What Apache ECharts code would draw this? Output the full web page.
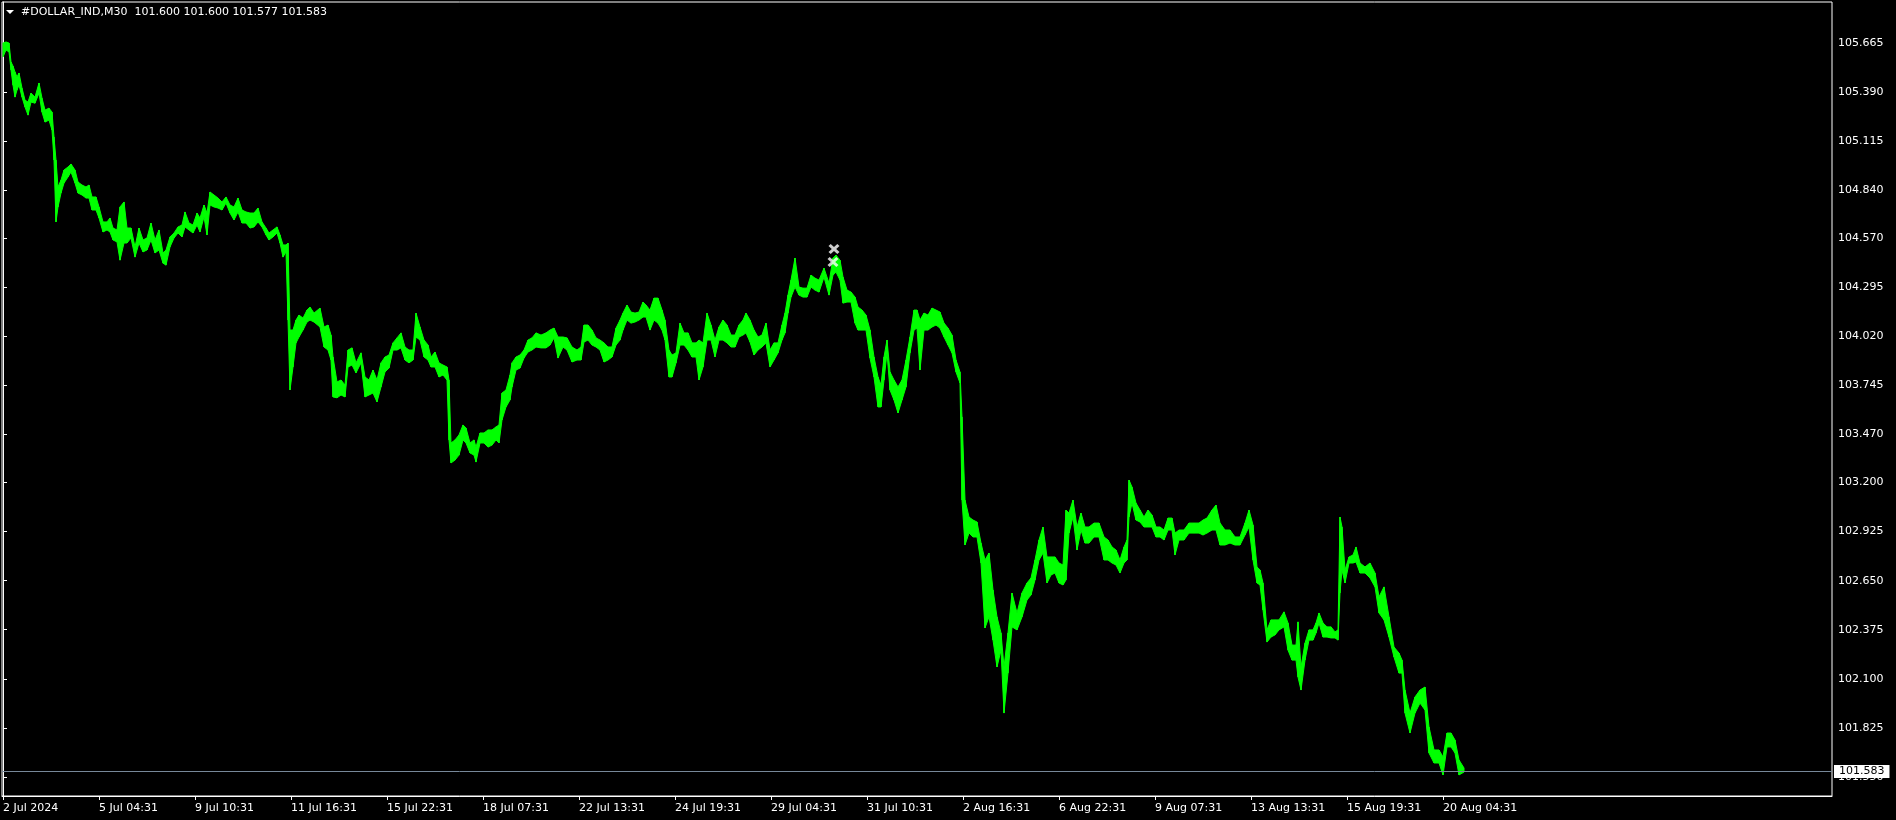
<!DOCTYPE html>
<html>
<head>
<meta charset="utf-8">
<script src="https://cdn.jsdelivr.net/npm/echarts@6/dist/echarts.min.js"></script>
<style>
html,body{margin:0;padding:0;background:#000;}
#chart{width:1896px;height:820px;}
</style>
</head>
<body>
<div id="chart"></div>
<script>
// ---- data ----
const symbolName = '#DOLLAR_IND,M30';
const lastOHLC = ['101.600', '101.600', '101.577', '101.583'];
const lastPrice = 101.583;

// bar index (M30 bars from 2 Jul 2024) of each sampled point
const barIdx = [
0,3,6,8,10,12,14,16,19,22,
25,28,32,36,39,42,46,49,51,53,
55,58,61,65,68,72,75,79,83,86,
89,93,96,100,104,107,110,114,117,121,
124,128,132,136,140,144,148,152,156,160,
163,167,171,175,179,182,186,190,194,197,
201,204,207,211,215,219,223,227,231,235,
239,243,247,251,255,259,263,266,270,274,
277,280,283,285,287,290,293,296,300,304,
307,311,317,321,325,328,330,334,338,342,
345,349,353,358,362,366,370,374,378,382,
386,390,394,398,402,406,410,413,417,421,
425,428,432,436,440,444,446,448,452,456,
460,463,467,471,473,477,481,485,489,493,
496,499,503,507,509,513,517,521,525,529,
533,538,543,547,551,555,560,564,569,574,
578,581,585,589,593,597,601,605,609,613,
617,620,624,628,632,636,640,643,647,651,
655,659,662,666,669,673,677,681,685,689,
693,696,700,704,708,712,716,720,724,728,
732,736,740,743,747,751,755,759,763,767,
771,775,779,782,785,788,792,796,800,804,
808,812,816,821,826,830,833,837,840,844,
848,852,855,859,863,867,871,875,878,881,
884,887,891,895,899,903,907,911,914,917,
921,925,929,933,937,941,945,949,953,957,
959,962,966,970,974,978,982,986,990,994,
998,1001,1005,1009,1014,1019,1024,1028,1032,1036,
1040,1044,1048,1052,1056,1060,1063,1066,1070,1074,
1078,1082,1086,1091,1096,1101,1105,1109,1113,1117,
1121,1124,1126,1129,1133,1137,1141,1145,1149,1153,
1157,1161,1165,1169,1172,1176,1181,1186,1191,1196,
1200,1204,1209,1213,1217,1222,1227,1232,1237,1242,
1246,1250,1254,1257,1260,1264,1268,1272,1276,1281,
1285,1289,1293,1295,1298,1302,1306,1310,1313,1316,
1320,1324,1328,1332,1335,1337,1339,1342,1346,1350,
1353,1357,1362,1367,1372,1376,1381,1386,1391,1396,
1399,1402,1407,1412,1417,1422,1426,1431,1436,1440,
1444,1448,1452,1456,1461
];

const highs = [
105.664,105.670,105.664,105.558,105.535,105.502,105.474,105.496,105.411,105.344,
105.333,105.383,105.361,105.440,105.355,105.288,105.299,105.277,105.137,105.008,
104.857,104.896,104.952,104.969,104.986,104.952,104.885,104.868,104.857,104.868,
104.801,104.801,104.745,104.661,104.661,104.683,104.627,104.616,104.745,104.773,
104.627,104.627,104.521,104.627,104.560,104.571,104.655,104.560,104.616,104.487,
104.504,104.577,104.599,104.633,104.644,104.717,104.655,104.644,104.711,104.683,
104.756,104.711,104.829,104.812,104.795,104.773,104.801,104.756,104.745,104.795,
104.728,104.717,104.711,104.711,104.739,104.661,104.627,104.599,104.616,104.633,
104.588,104.532,104.532,104.543,104.055,104.055,104.111,104.139,104.122,104.167,
104.184,104.150,104.178,104.072,104.083,104.027,103.904,103.764,103.775,103.747,
103.943,103.955,103.871,103.927,103.792,103.775,103.831,103.775,103.871,103.904,
103.915,103.983,104.011,104.039,103.960,103.943,103.943,104.150,104.072,103.999,
103.971,103.904,103.932,103.871,103.859,103.848,103.775,103.422,103.439,103.467,
103.523,103.506,103.422,103.439,103.399,103.478,103.478,103.495,103.495,103.512,
103.523,103.702,103.719,103.803,103.871,103.904,103.915,103.943,103.999,104.011,
104.039,104.027,104.039,104.055,104.066,104.016,104.016,104.011,103.960,103.943,
103.960,104.083,104.083,104.055,104.011,103.999,103.983,103.960,103.960,104.066,
104.111,104.150,104.195,104.156,104.150,104.156,104.212,104.195,104.167,104.234,
104.234,104.167,104.111,103.943,103.915,103.927,104.094,104.039,104.039,103.983,
103.983,103.999,103.983,104.150,104.083,103.999,104.072,104.111,104.083,104.027,
104.027,104.083,104.111,104.150,104.111,104.055,104.016,104.027,104.094,103.943,
103.983,103.983,104.083,104.150,104.251,104.335,104.459,104.296,104.290,104.290,
104.363,104.346,104.335,104.402,104.318,104.459,104.475,104.447,104.352,104.279,
104.268,104.240,104.184,104.167,104.139,104.055,103.904,103.792,103.747,103.904,
103.999,103.820,103.775,103.736,103.775,103.887,104.016,104.167,104.167,104.111,
104.150,104.139,104.178,104.167,104.156,104.094,104.066,104.027,103.887,103.820,
103.568,103.102,103.007,102.990,102.979,102.861,102.766,102.805,102.598,102.447,
102.357,102.166,102.357,102.581,102.469,102.581,102.637,102.665,102.766,102.878,
102.951,102.783,102.783,102.783,102.749,102.738,103.046,103.029,103.102,102.951,
103.029,102.951,102.951,102.973,102.973,102.895,102.878,102.839,102.822,102.766,
102.839,102.878,103.214,103.175,103.085,103.046,103.007,103.046,103.018,102.951,
102.951,102.934,103.001,103.001,102.917,102.934,102.934,102.973,102.973,102.973,
102.990,103.001,103.046,103.074,102.973,102.934,102.934,102.895,102.895,102.973,
103.046,102.962,102.727,102.710,102.637,102.374,102.430,102.430,102.430,102.475,
102.413,102.289,102.289,102.419,102.166,102.300,102.374,102.374,102.413,102.469,
102.413,102.391,102.391,102.363,102.374,103.007,102.951,102.710,102.783,102.794,
102.839,102.749,102.727,102.749,102.693,102.559,102.615,102.447,102.278,102.244,
102.205,102.037,101.908,101.998,102.037,102.054,101.830,101.701,101.701,101.662,
101.796,101.796,101.757,101.645,101.600
];

const lows = [
105.586,105.625,105.614,105.513,105.428,105.361,105.400,105.428,105.361,105.305,
105.260,105.333,105.327,105.383,105.277,105.221,105.232,105.176,105.008,104.661,
104.745,104.823,104.879,104.913,104.941,104.879,104.823,104.812,104.795,104.795,
104.728,104.728,104.683,104.605,104.616,104.605,104.560,104.549,104.447,104.543,
104.543,104.571,104.464,104.543,104.493,104.504,104.560,104.487,104.504,104.430,
104.419,104.521,104.571,104.599,104.577,104.633,104.616,104.599,104.644,104.605,
104.689,104.588,104.756,104.745,104.739,104.728,104.767,104.711,104.672,104.717,
104.655,104.655,104.627,104.633,104.661,104.633,104.588,104.560,104.577,104.599,
104.543,104.464,104.493,104.111,103.719,103.848,103.983,104.016,104.055,104.100,
104.111,104.100,104.072,103.960,103.943,103.887,103.680,103.675,103.691,103.680,
103.848,103.859,103.815,103.871,103.680,103.691,103.702,103.652,103.736,103.820,
103.842,103.943,103.943,103.955,103.887,103.871,103.887,104.016,103.999,103.904,
103.887,103.848,103.848,103.792,103.803,103.775,103.439,103.310,103.326,103.354,
103.439,103.422,103.366,103.354,103.315,103.422,103.422,103.399,103.410,103.439,
103.422,103.551,103.624,103.663,103.736,103.831,103.842,103.898,103.932,103.943,
103.960,103.955,103.955,103.971,104.011,103.898,103.960,103.943,103.876,103.887,
103.887,103.988,103.999,103.971,103.960,103.943,103.876,103.887,103.904,103.971,
103.999,104.055,104.111,104.094,104.100,104.111,104.128,104.128,104.055,104.111,
104.094,104.055,103.999,103.792,103.792,103.871,103.971,103.971,103.943,103.904,
103.904,103.775,103.848,103.999,103.999,103.904,103.999,103.999,103.983,103.960,
103.960,104.016,104.027,104.039,103.988,103.915,103.943,103.960,103.983,103.848,
103.887,103.927,103.999,104.039,104.150,104.240,104.296,104.251,104.240,104.240,
104.296,104.279,104.268,104.352,104.251,104.363,104.380,104.335,104.206,104.212,
104.212,104.094,104.055,104.055,104.055,103.898,103.792,103.624,103.624,103.775,
103.927,103.719,103.663,103.590,103.663,103.736,103.927,104.055,104.066,103.831,
104.055,104.055,104.072,104.083,104.066,104.016,103.971,103.927,103.820,103.758,
103.102,102.850,102.917,102.895,102.895,102.749,102.385,102.447,102.317,102.166,
102.261,101.908,102.132,102.391,102.374,102.447,102.542,102.570,102.654,102.766,
102.805,102.637,102.682,102.693,102.637,102.626,102.654,102.917,103.007,102.822,
102.934,102.861,102.861,102.895,102.895,102.766,102.766,102.749,102.738,102.693,
102.749,102.766,103.007,103.085,102.990,102.979,102.951,102.951,102.951,102.895,
102.895,102.878,102.934,102.934,102.794,102.878,102.878,102.917,102.917,102.917,
102.906,102.917,102.934,102.934,102.850,102.850,102.861,102.850,102.850,102.906,
102.951,102.766,102.637,102.626,102.486,102.306,102.334,102.346,102.374,102.391,
102.261,102.205,102.205,102.110,102.037,102.205,102.317,102.317,102.357,102.413,
102.334,102.334,102.329,102.329,102.317,102.581,102.710,102.637,102.749,102.749,
102.755,102.693,102.693,102.665,102.615,102.469,102.430,102.334,102.222,102.132,
102.132,101.908,101.796,101.908,101.964,101.925,101.684,101.628,101.628,101.561,
101.718,101.718,101.684,101.561,101.577
];

// trade markers (bar index, price)
const tradeMarks = [[831, 104.509], [830, 104.436]];

// axis ticks
const xTickBars = [0, 96, 192, 288, 384, 480, 576, 672, 768, 864, 960, 1056, 1152, 1248, 1344, 1440];
const xTickLabels = ['2 Jul 2024', '5 Jul 04:31', '9 Jul 10:31', '11 Jul 16:31', '15 Jul 22:31', '18 Jul 07:31',
  '22 Jul 13:31', '24 Jul 19:31', '29 Jul 04:31', '31 Jul 10:31', '2 Aug 16:31', '6 Aug 22:31',
  '9 Aug 07:31', '13 Aug 13:31', '15 Aug 19:31', '20 Aug 04:31'];
const yTickLabels = ['101.550', '101.825', '102.100', '102.375', '102.650', '102.925', '103.200', '103.470',
  '103.745', '104.020', '104.295', '104.570', '104.840', '105.115', '105.390', '105.665'];

// ---- build ----
const yTickValues = yTickLabels.map(Number);
const bandData = barIdx.slice(0, -1).map((b, i) =>
  [b, highs[i], lows[i], barIdx[i + 1], highs[i + 1], lows[i + 1]]);
const FONT = 'DejaVu Sans';
const GREEN = '#00ff00';

const chart = echarts.init(document.getElementById('chart'), null, {renderer: 'canvas'});
chart.setOption({
  backgroundColor: '#000',
  animation: false,
  grid: {left: 2, right: 64, top: 2, bottom: 24, show: true, borderColor: '#ffffff', borderWidth: 1, backgroundColor: '#000'},
  graphic: [
    {type: 'polygon', z: 100, shape: {points: [[6, 10], [14, 10], [10, 14]]}, style: {fill: '#ffffff'}},
    {type: 'text', z: 100, left: 21, top: 7, style: {text: symbolName + '  ' + lastOHLC.join(' '), fill: '#ffffff', font: '11px "' + FONT + '"'}}
  ],
  xAxis: {
    type: 'value', min: -1, max: 1829,
    axisLine: {show: true, lineStyle: {color: '#ffffff', width: 1}},
    axisTick: {show: true, length: 4, lineStyle: {color: '#ffffff'}, customValues: xTickBars},
    axisLabel: {
      customValues: xTickBars, color: '#ffffff', fontFamily: FONT, fontSize: 11, align: 'left', margin: 7,
      formatter: v => xTickLabels[xTickBars.indexOf(v)] || ''
    },
    splitLine: {show: false}
  },
  yAxis: {
    type: 'value', position: 'right', min: 101.443, max: 105.894,
    axisLine: {show: true, lineStyle: {color: '#ffffff', width: 1}},
    axisTick: {show: true, length: 4, lineStyle: {color: '#ffffff'}, customValues: yTickValues},
    axisLabel: {
      customValues: yTickValues, color: '#ffffff', fontFamily: FONT, fontSize: 11, margin: 6,
      formatter: v => v.toFixed(3)
    },
    splitLine: {show: false}
  },
  series: [
    {
      type: 'custom', name: 'price', data: bandData, clip: true, z: 3,
      encode: {x: [0, 3], y: [1, 2, 4, 5]},
      renderItem: (params, api) => {
        const p1 = api.coord([api.value(0), api.value(1)]);
        const p2 = api.coord([api.value(3), api.value(4)]);
        const p3 = api.coord([api.value(3), api.value(5)]);
        const p4 = api.coord([api.value(0), api.value(2)]);
        return {
          type: 'polygon',
          shape: {points: [p1, p2, p3, p4]},
          style: {fill: GREEN, stroke: GREEN, lineWidth: 1}
        };
      }
    },
    {
      type: 'line', name: 'last', data: [[barIdx[barIdx.length - 1], lastPrice]], symbol: 'none',
      lineStyle: {opacity: 0}, z: 4,
      markLine: {
        silent: true, symbol: 'none', animation: false,
        lineStyle: {color: '#778899', width: 1, type: 'solid'},
        label: {
          show: true, position: 'end', distance: 2, formatter: lastOHLC[3],
          color: '#000000', backgroundColor: '#ffffff', padding: [1, 5, 1, 5],
          fontFamily: FONT, fontSize: 11
        },
        data: [{yAxis: lastPrice}]
      }
    },
    {
      type: 'scatter', name: 'trades', data: tradeMarks, z: 5,
      symbol: 'path://M0,2 L2,0 L5,3 L8,0 L10,2 L7,5 L10,8 L8,10 L5,7 L2,10 L0,8 L3,5 Z',
      symbolSize: [11, 10], itemStyle: {color: '#ffffff'}
    }
  ]
});
</script>
</body>
</html>
